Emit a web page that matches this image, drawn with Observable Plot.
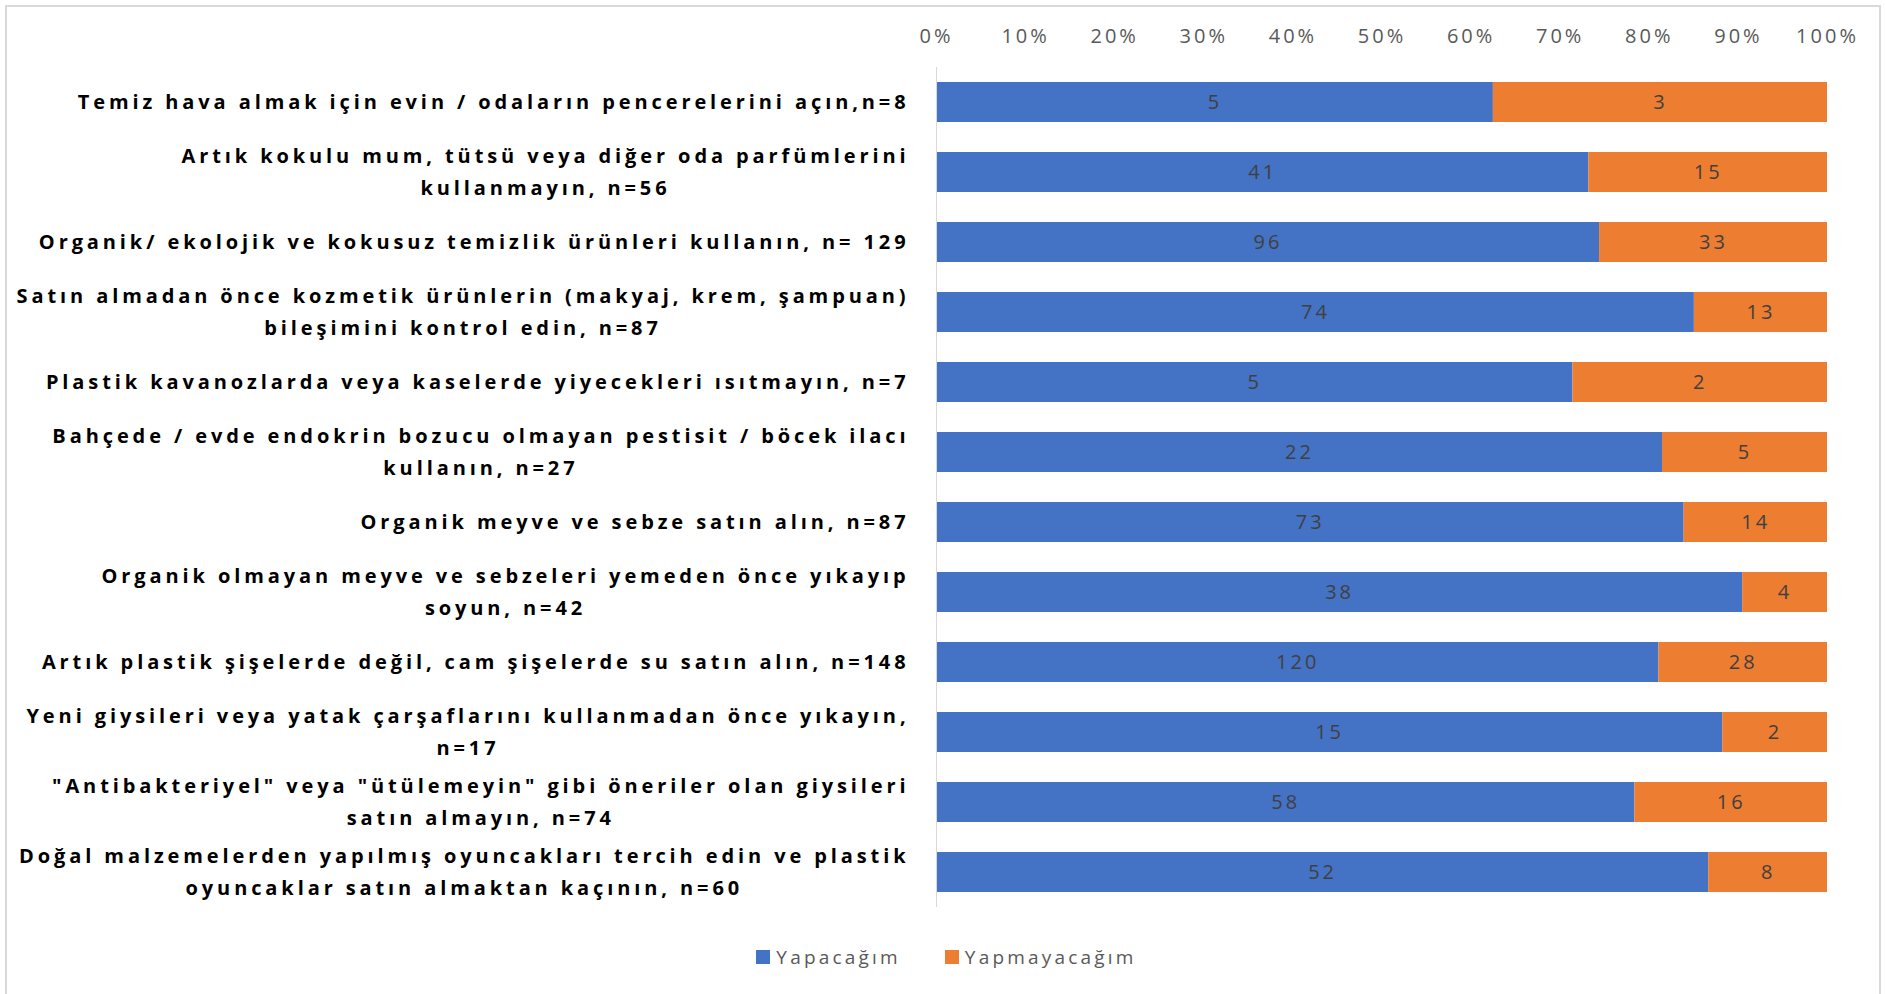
<!DOCTYPE html>
<html>
<head>
<meta charset="utf-8">
<script src="https://cdn.jsdelivr.net/npm/d3@7"></script>
<script src="https://cdn.jsdelivr.net/npm/@observablehq/plot@0.6"></script>
<style>
  html, body { margin: 0; padding: 0; background: #fff; }
  #wrap { position: relative; width: 1885px; height: 994px; overflow: hidden; font-family: 'Open Sans', sans-serif; }
  #frame { position: absolute; left: 5px; top: 5px; width: 1876px; height: 1000px; border: 2px solid #d9d9d9; box-sizing: border-box; pointer-events: none; }
  #chart { position: absolute; left: 0; top: 0; }
  g[aria-label="y-axis tick label"] text { letter-spacing: 3.9px; }
  g[aria-label="x-axis tick label"] text { letter-spacing: 3px; }
  g[aria-label="text"] text { letter-spacing: 3px; }
  #legend { position: absolute; left: 4px; top: 944px; width: 1885px; display: flex; justify-content: center; align-items: center; font-size: 19px; color: #595959; letter-spacing: 3.2px; }
  #legend .item { display: flex; align-items: center; margin: 0 22px; }
  #legend .sw { width: 14px; height: 14px; margin-right: 6px; }
</style>
</head>
<body>
<div id="wrap">
  <div id="frame"></div>
  <div id="chart"></div>
  <div id="legend"></div>
</div>
<script>
const items = [
  "Temiz hava almak için evin / odaların pencerelerini açın,n=8",
  "Artık kokulu mum, tütsü veya diğer oda parfümlerini\nkullanmayın, n=56",
  "Organik/ ekolojik ve kokusuz temizlik ürünleri kullanın, n= 129",
  "Satın almadan önce kozmetik ürünlerin (makyaj, krem, şampuan)\nbileşimini kontrol edin, n=87",
  "Plastik kavanozlarda veya kaselerde yiyecekleri ısıtmayın, n=7",
  "Bahçede / evde endokrin bozucu olmayan pestisit / böcek ilacı\nkullanın, n=27",
  "Organik meyve ve sebze satın alın, n=87",
  "Organik olmayan meyve ve sebzeleri yemeden önce yıkayıp\nsoyun, n=42",
  "Artık plastik şişelerde değil, cam şişelerde su satın alın, n=148",
  "Yeni giysileri veya yatak çarşaflarını kullanmadan önce yıkayın,\nn=17",
  "\"Antibakteriyel\" veya \"ütülemeyin\" gibi öneriler olan giysileri\nsatın almayın, n=74",
  "Doğal malzemelerden yapılmış oyuncakları tercih edin ve plastik\noyuncaklar satın almaktan kaçının, n=60"
];
const seriesNames = ["Yapacağım", "Yapmayacağım"];
const seriesColors = ["#4472C4", "#ED7D31"];
const yapacagim    = [5, 41, 96, 74, 5, 22, 73, 38, 120, 15, 58, 52];
const yapmayacagim = [3, 15, 33, 13, 2, 5, 14, 4, 28, 2, 16, 8];
const xTicks = [0, 0.1, 0.2, 0.3, 0.4, 0.5, 0.6, 0.7, 0.8, 0.9, 1];

const data = [];
items.forEach((item, i) => {
  data.push({item, series: seriesNames[0], value: yapacagim[i]});
  data.push({item, series: seriesNames[1], value: yapmayacagim[i]});
});

const plot = Plot.plot({
  width: 1885,
  height: 930,
  marginLeft: 936,
  marginRight: 58,
  marginTop: 67,
  marginBottom: 23,
  style: {fontFamily: "'Open Sans', sans-serif", background: "transparent"},
  x: {domain: [0, 1], label: null},
  y: {domain: items, paddingInner: 0.4286, paddingOuter: 0.2143, label: null},
  color: {domain: seriesNames, range: seriesColors},
  marks: [
    Plot.barX(data, Plot.stackX({x: "value", y: "item", fill: "series", offset: "normalize"})),
    Plot.text(data, Plot.stackX({x: "value", y: "item", z: "series", text: d => String(d.value), offset: "normalize", fill: "#404040", fontSize: 20})),
    Plot.ruleX([0], {stroke: "#d9d9d9", strokeWidth: 1}),
    Plot.axisX({anchor: "top", ticks: xTicks, tickFormat: d3.format(".0%"), tickSize: 0, tickPadding: 25, fontSize: 20, fill: "#595959", label: null}),
    Plot.axisY({anchor: "left", tickSize: 0, tickPadding: 27, dy: -3.5, fontSize: 20, fontWeight: "bold", fill: "#000", lineHeight: 1.6, textAnchor: "end", label: null})
  ]
});
document.getElementById("chart").appendChild(plot);

// center multi-line labels within their block (block stays right-aligned)
plot.querySelectorAll('g[aria-label="y-axis tick label"] text').forEach(t => {
  const spans = t.querySelectorAll("tspan");
  if (spans.length > 1) {
    const w = Math.max(...Array.from(spans, s => s.getComputedTextLength()));
    t.setAttribute("text-anchor", "middle");
    spans.forEach(s => s.setAttribute("x", (-w / 2).toFixed(1)));
  }
});

const legend = document.getElementById("legend");
seriesNames.forEach((name, i) => {
  const it = document.createElement("div");
  it.className = "item";
  const sw = document.createElement("div");
  sw.className = "sw";
  sw.style.background = seriesColors[i];
  const label = document.createElement("span");
  label.textContent = name;
  it.appendChild(sw);
  it.appendChild(label);
  legend.appendChild(it);
});
</script>
</body>
</html>
